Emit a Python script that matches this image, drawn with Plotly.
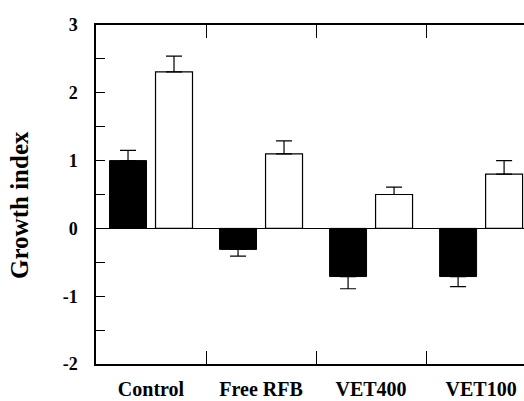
import plotly.graph_objects as go

categories = ["Control", "Free RFB", "VET400", "VET100"]
black_values = [1.00, -0.31, -0.71, -0.71]
black_errors = [0.15, 0.10, 0.18, 0.15]
white_values = [2.31, 1.10, 0.50, 0.80]
white_errors = [0.23, 0.19, 0.11, 0.20]
y_tick_values = [-2, -1, 0, 1, 2, 3]
y_tick_labels = ["-2", "-1", "0", "1", "2", "3"]
y_title = "Growth index"

FONT = "Times New Roman, Liberation Serif, serif"
positions = list(range(len(categories)))
boundaries = [p + 0.5 for p in positions[:-1]]
X_RANGE = [-0.5, 3.39]


def err_up(vals, errs):
    return [e if v >= 0 else 0 for v, e in zip(vals, errs)]


def err_down(vals, errs):
    return [e if v < 0 else 0 for v, e in zip(vals, errs)]


fig = go.Figure()
fig.add_trace(go.Bar(
    x=positions, y=black_values,
    marker=dict(color="black", line=dict(color="black", width=1)),
    error_y=dict(type="data", symmetric=False,
                 array=err_up(black_values, black_errors),
                 arrayminus=err_down(black_values, black_errors),
                 color="black", thickness=1.2, width=8),
    showlegend=False,
))
fig.add_trace(go.Bar(
    x=positions, y=white_values,
    marker=dict(color="white", line=dict(color="black", width=1.2)),
    error_y=dict(type="data", symmetric=False,
                 array=err_up(white_values, white_errors),
                 arrayminus=err_down(white_values, white_errors),
                 color="black", thickness=1.2, width=8),
    showlegend=False,
))
# invisible helper traces so the boundary-tick axes are drawn
for ax in ("x2", "x3"):
    fig.add_trace(go.Scatter(x=boundaries, y=[0] * len(boundaries), xaxis=ax,
                             mode="markers", marker=dict(opacity=0), showlegend=False,
                             hoverinfo="skip"))

fig.add_annotation(
    text=y_title, textangle=-90, xref="paper", yref="paper",
    x=-0.18, y=0.469, xanchor="center", yanchor="middle", showarrow=False,
    font=dict(family=FONT, size=25, color="black", weight="bold"),
)

boundary_axis = dict(
    range=X_RANGE, tickmode="array", tickvals=boundaries, ticktext=[""] * len(boundaries),
    ticks="inside", ticklen=13, tickwidth=1.2, tickcolor="black",
    showline=True, linecolor="black", linewidth=1.5,
    showgrid=False, zeroline=False, automargin=False,
)

fig.update_layout(
    width=524, height=401,
    margin=dict(l=96, r=0, t=25, b=37),
    paper_bgcolor="white", plot_bgcolor="white",
    barmode="group", bargap=0.164, bargroupgap=0.196,
    font=dict(family=FONT, color="black"),
    xaxis=dict(
        range=X_RANGE, tickmode="array", tickvals=positions, ticktext=categories,
        ticks="", showline=True, linecolor="black", linewidth=1.5, mirror=True,
        showgrid=False, zeroline=False, automargin=False,
        tickfont=dict(family=FONT, size=20, color="black", weight="bold"),
        ticklabelstandoff=6,
    ),
    xaxis2=dict(overlaying="x", side="bottom", anchor="y", **boundary_axis),
    xaxis3=dict(overlaying="x", side="top", anchor="y", **boundary_axis),
    yaxis=dict(
        range=[-2, 3], tickmode="array", tickvals=y_tick_values, ticktext=y_tick_labels,
        ticks="inside", ticklen=9, tickwidth=1, tickcolor="black",
        minor=dict(dtick=0.5, ticks="inside", ticklen=9, tickwidth=1, tickcolor="black", showgrid=False),
        showline=True, linecolor="black", linewidth=1.5,
        showgrid=False, zeroline=True, zerolinecolor="black", zerolinewidth=1.2,
        tickfont=dict(family=FONT, size=18, color="black", weight="bold"),
        ticklabelstandoff=13, automargin=False,
    ),
)

fig.write_html("out.html")
